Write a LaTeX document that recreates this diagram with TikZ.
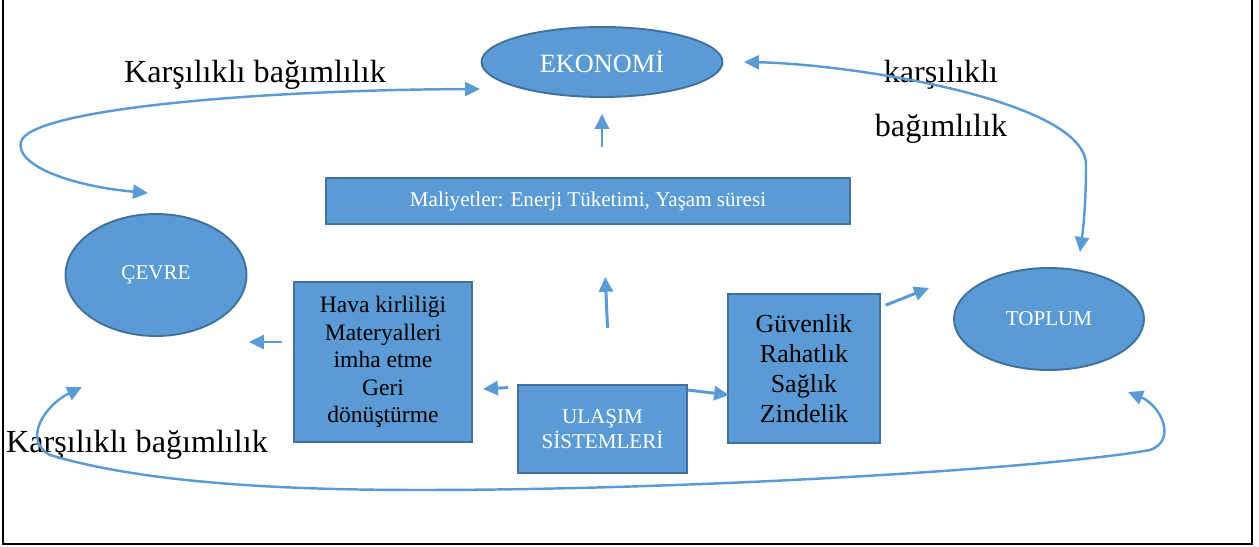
\documentclass[tikz,border=0pt]{standalone}
\usepackage{fontspec}
\setmainfont{Liberation Serif}
\usepackage{tikz}
\usetikzlibrary{arrows.meta,shapes.geometric,positioning}
\definecolor{ulblue}{RGB}{91,155,213}
\definecolor{uldark}{RGB}{65,113,156}
\tikzstyle{arrow} = [line width=1.7pt,-{Triangle[length=8.5pt,width=8pt]},color=ulblue]
\tikzstyle{twoway} = [line width=1.4pt,{Triangle[length=8.5pt,width=8pt]}-{Triangle[length=8.5pt,width=8pt]},color=ulblue]
\tikzstyle{area} = [ellipse, draw=uldark, fill=ulblue, line width=1.1pt, inner sep=0pt, text=white, font=\fontsize{12pt}{14pt}\selectfont]
\tikzstyle{factor} = [rectangle, draw=uldark, fill=ulblue, line width=1.1pt, inner sep=0pt, align=center]
\tikzstyle{tag} = [inner sep=0pt, anchor=base, font=\fontsize{18.3pt}{22pt}\selectfont]

\begin{document}
\begin{tikzpicture}[x=0.02cm, y=-0.02cm]
\useasboundingbox (0,0) rectangle (1259,547);
% frame
\draw[line width=1.2pt] (3,0) -- (3,544) -- (1252,544) -- (1252,0);

% main areas
\node (eko) [area, minimum width=4.82cm, minimum height=1.4cm, font=\fontsize{15pt}{18pt}\selectfont] at (602,62) {EKONOMİ};
\node (cevre) [area, minimum width=3.62cm, minimum height=2.44cm] at (156,275) {ÇEVRE};
\node (toplum) [area, minimum width=3.8cm, minimum height=2.04cm] at (1049,319) {TOPLUM};

% factors
\node (malit) [factor, minimum width=10.48cm, minimum height=0.92cm, text=white, font=\fontsize{12pt}{14pt}\selectfont] at (588,201) {Maliyetler: Enerji Tüketimi, Yaşam süresi};
\node (hava) [factor, minimum width=3.56cm, minimum height=3.2cm, font=\fontsize{13.4pt}{15.6pt}\selectfont] at (383,362) {Hava kirliliği\\Materyalleri\\imha etme\\Geri\\dönüştürme};
\node (ulasim) [factor, minimum width=3.38cm, minimum height=1.76cm, text=white, font=\fontsize{12pt}{14.2pt}\selectfont] at (602.5,429) {ULAŞIM\\SİSTEMLERİ};
\node (guven) [factor, minimum width=3.04cm, minimum height=2.98cm, font=\fontsize{14.8pt}{17.2pt}\selectfont] at (804,368.5) {Güvenlik\\Rahatlık\\Sağlık\\Zindelik};

% labels
\node (tagTL) [tag] at (255,83) {Karşılıklı bağımlılık};
\node (tagTR1) [tag] at (941,83) {karşılıklı};
\node (tagTR2) [tag] at (941,137) {bağımlılık};
\node (tagB) [tag] at (137,453) {Karşılıklı bağımlılık};

% arrow ends
\coordinate (ekoW) at (480,89);
\coordinate (ekoE) at (744,62);
\coordinate (cevreN) at (148,193);
\coordinate (cevreS) at (82,387);
\coordinate (cevreIn) at (249,342);
\coordinate (toplumN) at (1080,252);
\coordinate (toplumS) at (1128,392);
\coordinate (toplumIn) at (929,288);
\coordinate (havaIn) at (483,389);
\coordinate (guvenIn) at (729,395);

% straight arrows
\draw[arrow, shorten <=1.12cm, shorten >=1.04cm] ([xshift=0.15cm]ulasim.north) -- ([xshift=0.3cm]malit.south);
\draw[arrow, shorten <=0.6cm, shorten >=0.32cm] (eko.south |- malit.north) -- (eko.south);
\draw[arrow, shorten <=0.22cm] (hava.west |- cevreIn) -- (cevreIn);
\draw[arrow, shorten <=0.18cm] ([yshift=-0.06cm]ulasim.north west) -- (havaIn);
\draw[arrow] ([yshift=-0.12cm]ulasim.north east) -- (guvenIn);
\draw[arrow, shorten <=0.1cm] ([yshift=-0.28cm]guven.north east) -- (toplumIn);

% mutual dependence
\draw[twoway] (cevreN) .. controls (70,186) and (15,165) .. (21,142) .. controls (28,110) and (250,90) .. (ekoW);
\draw[twoway] (ekoE) .. controls (850,64) and (1086,100) .. (1086,165) .. controls (1086,205) and (1083,230) .. (toplumN);
\draw[twoway] (cevreS) .. controls (45,405) and (22,440) .. (50,455) .. controls (150,485) and (300,490) .. (420,490) .. controls (700,490) and (1050,468) .. (1150,450) .. controls (1178,440) and (1160,405) .. (toplumS);
\end{tikzpicture}
\end{document}
